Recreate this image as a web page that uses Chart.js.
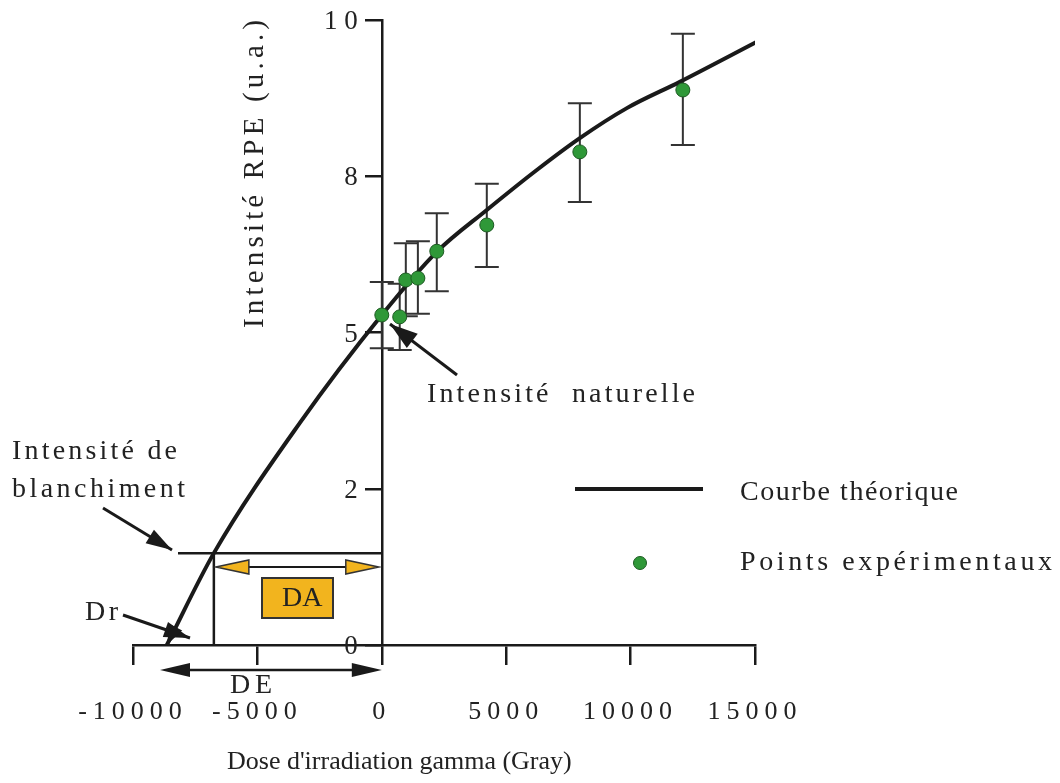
<!DOCTYPE html>
<html>
<head>
<meta charset="utf-8">
<script src="https://cdn.jsdelivr.net/npm/chart.js@4"></script>
<style>
  html, body { margin: 0; padding: 0; background: #fff; }
</style>
</head>
<body>
<canvas id="chart" width="1060" height="783"></canvas>
<script>
// Courbe théorique (dose en Gray, intensité en u.a.)
const curveDose = [-8640, -6750, -3300, 0, 2210, 4220, 6230, 7960, 9850, 11980, 15070];
const curveIntensity = [0, 1.47, 3.55, 5.28, 6.29, 6.96, 7.60, 8.11, 8.59, 9.01, 9.65];

// Points expérimentaux et barres d'erreur
const pointDose = [0, 720, 965, 1450, 2210, 4220, 7960, 12100];
const pointIntensity = [5.28, 5.25, 5.84, 5.87, 6.30, 6.72, 7.89, 8.88];
const errLow = [4.75, 4.72, 5.26, 5.30, 5.66, 6.05, 7.09, 8.00];
const errHigh = [5.81, 5.78, 6.43, 6.46, 6.91, 7.38, 8.67, 9.78];

// Axes
const doseTicks = [-10000, -5000, 0, 5000, 10000, 15000];
const intensityTicks = [0, 2.5, 5, 7.5, 10];
const intensityLabels = ["0", "2", "5", "8", "1 0"];

// Niveau de blanchiment
const bleachLevel = 1.47;
const bleachDose = -6750;

const serif = "'Liberation Serif', 'DejaVu Serif', serif";
const green = "#2f9838";
const orange = "#f2b41e";
const ink = "#1a1a1a";

// text stretched to a given width (the original is letter-spaced)
function drawText(ctx, text, x, y, o = {}) {
  ctx.save();
  ctx.font = (o.size || 28) + "px " + serif;
  ctx.letterSpacing = "0px";
  const natural = ctx.measureText(text).width;
  const gap = o.width ? Math.max(0, (o.width - natural) / (text.length - 1)) : 0;
  ctx.letterSpacing = gap + "px";
  ctx.textAlign = o.align || "left";
  ctx.textBaseline = "middle";
  ctx.fillStyle = "#222";
  ctx.translate(x, y);
  if (o.rotate) ctx.rotate(o.rotate);
  ctx.fillText(text, 0, 0);
  ctx.restore();
}

function arrowHead(ctx, x1, y1, x2, y2, len, half, fill) {
  const a = Math.atan2(y2 - y1, x2 - x1);
  const bx = x2 - Math.cos(a) * len;
  const by = y2 - Math.sin(a) * len;
  ctx.beginPath();
  ctx.moveTo(x2, y2);
  ctx.lineTo(bx - Math.sin(a) * half, by + Math.cos(a) * half);
  ctx.lineTo(bx + Math.sin(a) * half, by - Math.cos(a) * half);
  ctx.closePath();
  ctx.fillStyle = fill || ink;
  ctx.fill();
  if (fill) {
    ctx.lineWidth = 1.5;
    ctx.strokeStyle = "#333";
    ctx.stroke();
  }
}

function arrow(ctx, x1, y1, x2, y2, len, half) {
  ctx.beginPath();
  ctx.moveTo(x1, y1);
  ctx.lineTo(x2, y2);
  ctx.stroke();
  arrowHead(ctx, x1, y1, x2, y2, len, half);
}

const errorBars = {
  id: "errorBars",
  beforeDatasetsDraw(chart) {
    const { ctx, scales: { x, y } } = chart;
    ctx.save();
    ctx.strokeStyle = "#333";
    ctx.lineWidth = 2;
    pointDose.forEach((d, i) => {
      const px = x.getPixelForValue(d);
      const top = y.getPixelForValue(errHigh[i]);
      const bot = y.getPixelForValue(errLow[i]);
      ctx.beginPath();
      ctx.moveTo(px, top);
      ctx.lineTo(px, bot);
      ctx.moveTo(px - 12, top);
      ctx.lineTo(px + 12, top);
      ctx.moveTo(px - 12, bot);
      ctx.lineTo(px + 12, bot);
      ctx.stroke();
    });
    ctx.restore();
  },
};

const annotations = {
  id: "annotations",
  beforeDraw(chart) {
    // spaced digits on the dose axis
    chart.ctx.letterSpacing = "6px";
  },
  afterDraw(chart) {
    const { ctx, scales: { x, y } } = chart;
    ctx.save();
    ctx.letterSpacing = "0px";
    ctx.strokeStyle = ink;
    ctx.lineWidth = 2.5;

    const x0 = x.getPixelForValue(0);
    const yb = y.getPixelForValue(bleachLevel);
    const xb = x.getPixelForValue(bleachDose);
    const y0 = y.getPixelForValue(0);

    // intensity tick labels, left of the axis drawn at dose 0
    y.ticks.forEach((t, i) => {
      drawText(ctx, intensityLabels[i], x0 - 24, y.getPixelForValue(t.value) + 2, { size: 27, align: "right" });
    });

    // bleaching level and its dose
    ctx.beginPath();
    ctx.moveTo(178, yb);
    ctx.lineTo(x0, yb);
    ctx.moveTo(xb, yb);
    ctx.lineTo(xb, y0);
    ctx.stroke();

    // DA double arrow
    ctx.lineWidth = 2;
    ctx.beginPath();
    ctx.moveTo(xb + 20, 567);
    ctx.lineTo(x0 - 20, 567);
    ctx.stroke();
    arrowHead(ctx, x0, 567, xb + 2, 567, 33, 7, orange);
    arrowHead(ctx, xb, 567, x0 - 3, 567, 33, 7, orange);

    ctx.fillStyle = orange;
    ctx.fillRect(262, 578, 71, 40);
    ctx.strokeStyle = "#333";
    ctx.lineWidth = 2;
    ctx.strokeRect(262, 578, 71, 40);
    drawText(ctx, "DA", 282, 599);

    // DE double arrow
    ctx.strokeStyle = ink;
    ctx.lineWidth = 2.5;
    ctx.beginPath();
    ctx.moveTo(175, 670);
    ctx.lineTo(x0 - 15, 670);
    ctx.stroke();
    arrowHead(ctx, x0, 670, 160, 670, 30, 7);
    arrowHead(ctx, 160, 670, x0, 670, 30, 7);
    drawText(ctx, "DE", 230, 686, { width: 42 });

    // pointers
    ctx.lineWidth = 3;
    arrow(ctx, 103, 508, 172, 550, 26, 8);
    arrow(ctx, 123, 615, 190, 638, 26, 8);
    arrow(ctx, 457, 375, 390, 324, 28, 9);
    const cx0 = x.getPixelForValue(curveDose[0]);
    const cx1 = x.getPixelForValue(curveDose[1]);
    arrowHead(ctx, cx1, y.getPixelForValue(curveIntensity[1]), cx0, y0, 20, 7);

    // labels
    drawText(ctx, "Intensité de", 12, 452, { width: 165 });
    drawText(ctx, "blanchiment", 12, 490, { width: 173 });
    drawText(ctx, "Dr", 85, 613, { width: 33 });
    drawText(ctx, "Intensité  naturelle", 427, 395, { width: 268 });

    // legend
    ctx.strokeStyle = ink;
    ctx.lineWidth = 4;
    ctx.beginPath();
    ctx.moveTo(575, 489);
    ctx.lineTo(703, 489);
    ctx.stroke();
    ctx.beginPath();
    ctx.arc(640, 563, 6.5, 0, Math.PI * 2);
    ctx.fillStyle = green;
    ctx.fill();
    ctx.lineWidth = 1;
    ctx.strokeStyle = "#1d5a22";
    ctx.stroke();
    drawText(ctx, "Courbe théorique", 740, 493, { width: 218 });
    drawText(ctx, "Points expérimentaux", 740, 563, { width: 312 });

    // axis titles
    drawText(ctx, "Dose d'irradiation gamma (Gray)", 227, 762, { size: 26, width: 341 });
    drawText(ctx, "Intensité RPE (u.a.)", 255, 328, { size: 29, width: 308, rotate: -Math.PI / 2 });
    ctx.restore();
  },
};

new Chart(document.getElementById("chart"), {
  type: "scatter",
  data: {
    datasets: [
      {
        label: "Points expérimentaux",
        data: pointDose.map((d, i) => ({ x: d, y: pointIntensity[i] })),
        pointRadius: 7,
        pointBackgroundColor: green,
        pointBorderColor: "#1d5a22",
        pointBorderWidth: 1,
      },
      {
        label: "Courbe théorique",
        data: curveDose.map((d, i) => ({ x: d, y: curveIntensity[i] })),
        showLine: true,
        borderColor: ink,
        borderWidth: 4,
        pointRadius: 0,
        cubicInterpolationMode: "monotone",
      },
    ],
  },
  options: {
    responsive: false,
    animation: false,
    devicePixelRatio: 1,
    layout: {
      padding: { left: 133, right: 305, top: 20, bottom: 48 },
    },
    plugins: {
      legend: { display: false },
      tooltip: { enabled: false },
    },
    scales: {
      x: {
        type: "linear",
        position: "bottom",
        min: -10000,
        max: 15000,
        afterBuildTicks: (scale) => {
          scale.ticks = doseTicks.map((v) => ({ value: v }));
        },
        afterFit: (scale) => {
          scale.height = 90;
        },
        ticks: {
          callback: (v) => String(v),
          color: "#222",
          padding: 32,
          maxRotation: 0,
          font: { family: serif, size: 26 },
        },
        grid: {
          drawOnChartArea: false,
          tickLength: 20,
          color: ink,
          lineWidth: 2.5,
        },
        border: { display: true, color: ink, width: 2.5 },
      },
      y: {
        type: "linear",
        position: { x: 0 },
        min: 0,
        max: 10,
        afterBuildTicks: (scale) => {
          scale.ticks = intensityTicks.map((v) => ({ value: v }));
        },
        ticks: { display: false },
        grid: {
          drawOnChartArea: false,
          tickLength: 16,
          color: ink,
          lineWidth: 2.5,
        },
        border: { display: true, color: ink, width: 2.5 },
      },
    },
  },
  plugins: [errorBars, annotations],
});
</script>
</body>
</html>
